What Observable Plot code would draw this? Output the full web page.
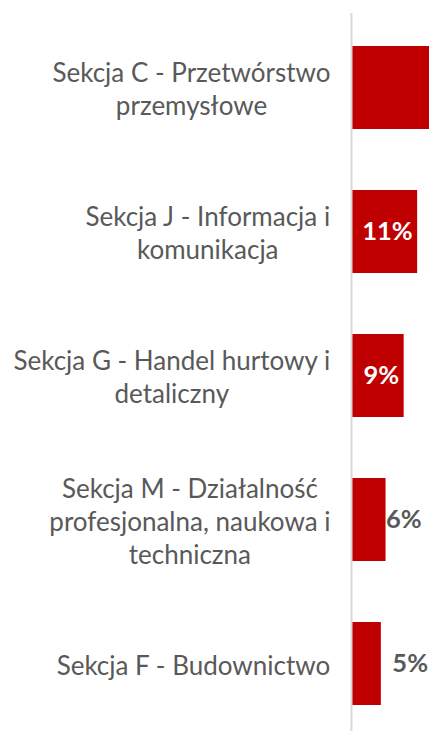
<!DOCTYPE html>
<html>
<head>
<meta charset="utf-8">
<script src="https://cdn.jsdelivr.net/npm/d3@7"></script>
<script src="https://cdn.jsdelivr.net/npm/@observablehq/plot@0.6"></script>
<style>
  html, body { margin: 0; padding: 0; background: #fff; overflow: hidden; }
  #chart { width: 429px; height: 731px; }
</style>
</head>
<body>
<div id="chart"></div>
<script>
// Data
const categories = [
  "Sekcja C - Przetwórstwo\nprzemysłowe",
  "Sekcja J - Informacja i\nkomunikacja",
  "Sekcja G - Handel hurtowy i\ndetaliczny",
  "Sekcja M - Działalność\nprofesjonalna, naukowa i\ntechniczna",
  "Sekcja F - Budownictwo"
];
const values = [24, 11.3, 9.0, 5.9, 5.1];
const valueLabels = ["24%", "11%", "9%", "6%", "5%"];
const labelPlacement = ["hidden", "inside", "inside", "outsideNear", "outsideFar"];

const rows = categories.map((c, i) => ({cat: c, value: values[i], label: valueLabels[i], place: labelPlacement[i]}));

const FONT = "Lato";
const fs = 26;
const vfs = 25.5;
const labelColor = "#595959";
const axisX = 351;
const labelRight = 330;

const canvas = document.createElement("canvas");
const ctx = canvas.getContext("2d");
ctx.font = `${fs}px ${FONT}`;
function blockWidth(s) {
  return Math.max(...s.split("\n").map(l => ctx.measureText(l).width));
}

const catMarks = categories.map(c => Plot.text([c], {
  x: () => 0,
  y: d => d,
  text: d => d,
  textAnchor: "middle",
  dx: -((axisX - labelRight) + blockWidth(c) / 2),
  fontSize: fs,
  fontFamily: FONT,
  lineHeight: 33 / fs,
  fill: labelColor
}));

const chart = Plot.plot({
  width: 429,
  height: 731,
  marginLeft: axisX,
  marginRight: 0,
  marginTop: 13,
  marginBottom: 0,
  style: {background: "#fff", overflow: "hidden"},
  x: {domain: [0, 13.33], axis: null},
  y: {domain: categories, axis: null, paddingInner: 0.4264, paddingOuter: 0.194, align: 0.55},
  marks: [
    Plot.barX(rows, {x: "value", y: "cat", fill: "#c00000", clip: true}),
    Plot.ruleX([0], {stroke: "#d9d9d9", strokeWidth: 2}),
    Plot.text(rows.filter(d => d.place === "inside"), {
      x: "value", y: "cat", text: "label", textAnchor: "end", dx: -5,
      fill: "white", fontWeight: "bold", fontSize: vfs, fontFamily: FONT
    }),
    Plot.text(rows.filter(d => d.place === "outsideNear"), {
      x: "value", y: "cat", text: "label", textAnchor: "start", dx: 0,
      fill: labelColor, fontWeight: "bold", fontSize: vfs, fontFamily: FONT
    }),
    Plot.text(rows.filter(d => d.place === "outsideFar"), {
      x: "value", y: "cat", text: "label", textAnchor: "start", dx: 11,
      fill: labelColor, fontWeight: "bold", fontSize: vfs, fontFamily: FONT
    }),
    ...catMarks
  ]
});
document.getElementById("chart").appendChild(chart);
</script>
</body>
</html>
